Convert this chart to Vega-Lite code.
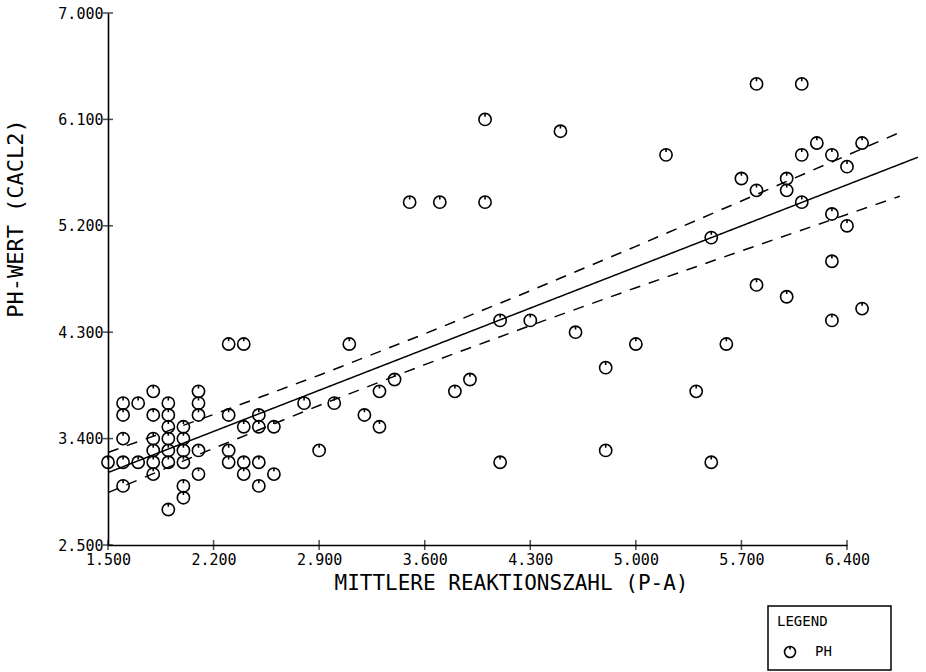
{
  "$schema": "https://vega.github.io/schema/vega-lite/v6.json",
  "autosize": {"type": "none"},
  "padding": {"left": 108, "top": 13, "right": 79, "bottom": 127},
  "width": 739,
  "height": 532,
  "background": "white",
  "config": {
    "view": {"stroke": null},
    "axis": {
      "grid": false,
      "ticks": false,
      "tickSize": 0,
      "domainColor": "black",
      "domainWidth": 1.6,
      "labelFont": "DejaVu Sans Mono",
      "labelFontSize": 15,
      "labelColor": "black",
      "labelOverlap": false,
      "labelBound": false,
      "labelFlush": false,
      "titleFont": "DejaVu Sans Mono",
      "titleFontWeight": "normal",
      "titleColor": "black"
    },
    "legend": {
      "orient": "none",
      "legendX": 660,
      "legendY": 593,
      "strokeColor": "black",
      "strokeWidth": 1.5,
      "padding": 9,
      "cornerRadius": 0,
      "titleFont": "DejaVu Sans Mono",
      "titleFontSize": 14,
      "titleFontWeight": "normal",
      "titleColor": "black",
      "titlePadding": 16,
      "labelFont": "DejaVu Sans Mono",
      "labelFontSize": 14,
      "labelColor": "black",
      "labelOffset": 18,
      "symbolOffset": 6,
      "symbolSize": 120,
      "symbolStrokeColor": "black",
      "symbolStrokeWidth": 1.6,
      "symbolFillColor": "transparent"
    }
  },
  "datasets": {
    "points": [
      {"x": 1.5, "ph": 3.2, "series": "PH"},
      {"x": 1.6, "ph": 3.7, "series": "PH"},
      {"x": 1.6, "ph": 3.6, "series": "PH"},
      {"x": 1.6, "ph": 3.4, "series": "PH"},
      {"x": 1.6, "ph": 3.2, "series": "PH"},
      {"x": 1.6, "ph": 3.0, "series": "PH"},
      {"x": 1.7, "ph": 3.7, "series": "PH"},
      {"x": 1.7, "ph": 3.2, "series": "PH"},
      {"x": 1.8, "ph": 3.8, "series": "PH"},
      {"x": 1.8, "ph": 3.6, "series": "PH"},
      {"x": 1.8, "ph": 3.4, "series": "PH"},
      {"x": 1.8, "ph": 3.3, "series": "PH"},
      {"x": 1.8, "ph": 3.2, "series": "PH"},
      {"x": 1.8, "ph": 3.1, "series": "PH"},
      {"x": 1.9, "ph": 3.7, "series": "PH"},
      {"x": 1.9, "ph": 3.6, "series": "PH"},
      {"x": 1.9, "ph": 3.5, "series": "PH"},
      {"x": 1.9, "ph": 3.4, "series": "PH"},
      {"x": 1.9, "ph": 3.3, "series": "PH"},
      {"x": 1.9, "ph": 3.2, "series": "PH"},
      {"x": 1.9, "ph": 2.8, "series": "PH"},
      {"x": 2.0, "ph": 3.5, "series": "PH"},
      {"x": 2.0, "ph": 3.4, "series": "PH"},
      {"x": 2.0, "ph": 3.3, "series": "PH"},
      {"x": 2.0, "ph": 3.2, "series": "PH"},
      {"x": 2.0, "ph": 3.0, "series": "PH"},
      {"x": 2.0, "ph": 2.9, "series": "PH"},
      {"x": 2.1, "ph": 3.8, "series": "PH"},
      {"x": 2.1, "ph": 3.7, "series": "PH"},
      {"x": 2.1, "ph": 3.6, "series": "PH"},
      {"x": 2.1, "ph": 3.3, "series": "PH"},
      {"x": 2.1, "ph": 3.1, "series": "PH"},
      {"x": 2.3, "ph": 4.2, "series": "PH"},
      {"x": 2.3, "ph": 3.6, "series": "PH"},
      {"x": 2.3, "ph": 3.3, "series": "PH"},
      {"x": 2.3, "ph": 3.2, "series": "PH"},
      {"x": 2.4, "ph": 4.2, "series": "PH"},
      {"x": 2.4, "ph": 3.5, "series": "PH"},
      {"x": 2.4, "ph": 3.2, "series": "PH"},
      {"x": 2.4, "ph": 3.1, "series": "PH"},
      {"x": 2.5, "ph": 3.6, "series": "PH"},
      {"x": 2.5, "ph": 3.5, "series": "PH"},
      {"x": 2.5, "ph": 3.2, "series": "PH"},
      {"x": 2.5, "ph": 3.0, "series": "PH"},
      {"x": 2.6, "ph": 3.5, "series": "PH"},
      {"x": 2.6, "ph": 3.1, "series": "PH"},
      {"x": 2.8, "ph": 3.7, "series": "PH"},
      {"x": 2.9, "ph": 3.3, "series": "PH"},
      {"x": 3.0, "ph": 3.7, "series": "PH"},
      {"x": 3.1, "ph": 4.2, "series": "PH"},
      {"x": 3.2, "ph": 3.6, "series": "PH"},
      {"x": 3.3, "ph": 3.8, "series": "PH"},
      {"x": 3.3, "ph": 3.5, "series": "PH"},
      {"x": 3.4, "ph": 3.9, "series": "PH"},
      {"x": 3.5, "ph": 5.4, "series": "PH"},
      {"x": 3.7, "ph": 5.4, "series": "PH"},
      {"x": 3.8, "ph": 3.8, "series": "PH"},
      {"x": 3.9, "ph": 3.9, "series": "PH"},
      {"x": 4.0, "ph": 6.1, "series": "PH"},
      {"x": 4.0, "ph": 5.4, "series": "PH"},
      {"x": 4.1, "ph": 4.4, "series": "PH"},
      {"x": 4.1, "ph": 3.2, "series": "PH"},
      {"x": 4.3, "ph": 4.4, "series": "PH"},
      {"x": 4.5, "ph": 6.0, "series": "PH"},
      {"x": 4.6, "ph": 4.3, "series": "PH"},
      {"x": 4.8, "ph": 4.0, "series": "PH"},
      {"x": 4.8, "ph": 3.3, "series": "PH"},
      {"x": 5.0, "ph": 4.2, "series": "PH"},
      {"x": 5.2, "ph": 5.8, "series": "PH"},
      {"x": 5.4, "ph": 3.8, "series": "PH"},
      {"x": 5.5, "ph": 5.1, "series": "PH"},
      {"x": 5.5, "ph": 3.2, "series": "PH"},
      {"x": 5.6, "ph": 4.2, "series": "PH"},
      {"x": 5.7, "ph": 5.6, "series": "PH"},
      {"x": 5.8, "ph": 6.4, "series": "PH"},
      {"x": 5.8, "ph": 5.5, "series": "PH"},
      {"x": 5.8, "ph": 4.7, "series": "PH"},
      {"x": 6.0, "ph": 5.6, "series": "PH"},
      {"x": 6.0, "ph": 5.5, "series": "PH"},
      {"x": 6.0, "ph": 4.6, "series": "PH"},
      {"x": 6.1, "ph": 6.4, "series": "PH"},
      {"x": 6.1, "ph": 5.8, "series": "PH"},
      {"x": 6.1, "ph": 5.4, "series": "PH"},
      {"x": 6.2, "ph": 5.9, "series": "PH"},
      {"x": 6.3, "ph": 5.8, "series": "PH"},
      {"x": 6.3, "ph": 5.3, "series": "PH"},
      {"x": 6.3, "ph": 4.9, "series": "PH"},
      {"x": 6.3, "ph": 4.4, "series": "PH"},
      {"x": 6.4, "ph": 5.7, "series": "PH"},
      {"x": 6.4, "ph": 5.2, "series": "PH"},
      {"x": 6.5, "ph": 5.9, "series": "PH"},
      {"x": 6.5, "ph": 4.5, "series": "PH"}
    ],
    "lines": [
      {"x": 1.5, "y": 3.113, "band": "fit"},
      {"x": 6.87, "y": 5.780, "band": "fit"},
      {"x": 1.5, "y": 3.283, "band": "upper"},
      {"x": 2.2, "y": 3.604, "band": "upper"},
      {"x": 2.9, "y": 3.936, "band": "upper"},
      {"x": 3.6, "y": 4.286, "band": "upper"},
      {"x": 4.3, "y": 4.650, "band": "upper"},
      {"x": 5.0, "y": 5.026, "band": "upper"},
      {"x": 5.7, "y": 5.410, "band": "upper"},
      {"x": 6.4, "y": 5.796, "band": "upper"},
      {"x": 6.75, "y": 5.990, "band": "upper"},
      {"x": 1.5, "y": 2.943, "band": "lower"},
      {"x": 2.2, "y": 3.318, "band": "lower"},
      {"x": 2.9, "y": 3.680, "band": "lower"},
      {"x": 3.6, "y": 4.026, "band": "lower"},
      {"x": 4.3, "y": 4.356, "band": "lower"},
      {"x": 5.0, "y": 4.676, "band": "lower"},
      {"x": 5.7, "y": 4.988, "band": "lower"},
      {"x": 6.4, "y": 5.296, "band": "lower"},
      {"x": 6.75, "y": 5.450, "band": "lower"}
    ],
    "xticks": [{"v": 1.5}, {"v": 2.2}, {"v": 2.9}, {"v": 3.6}, {"v": 4.3}, {"v": 5.0}, {"v": 5.7}, {"v": 6.4}],
    "yticks": [{"v": 2.5}, {"v": 3.4}, {"v": 4.3}, {"v": 5.2}, {"v": 6.1}, {"v": 7.0}]
  },
  "layer": [
    {
      "data": {"name": "lines"},
      "mark": {"type": "line", "color": "black", "strokeWidth": 1.5},
      "encoding": {
        "x": {
          "field": "x", "type": "quantitative",
          "scale": {"domain": [1.5, 6.4], "nice": false, "zero": false},
          "axis": {
            "values": [1.5, 2.2, 2.9, 3.6, 4.3, 5.0, 5.7, 6.4],
            "format": ".3f",
            "labelPadding": 7,
            "title": "MITTLERE REAKTIONSZAHL (P-A)",
            "titleFontSize": 21,
            "titleX": 403,
            "titleY": 44,
            "titleAlign": "center",
            "titleBaseline": "alphabetic"
          }
        },
        "y": {
          "field": "y", "type": "quantitative",
          "scale": {"domain": [2.5, 7.0], "nice": false, "zero": false},
          "axis": {
            "values": [2.5, 3.4, 4.3, 5.2, 6.1, 7.0],
            "format": ".3f",
            "labelPadding": 5,
            "title": "PH-WERT (CACL2)",
            "titleFontSize": 22,
            "titleAngle": -90,
            "titleX": -86,
            "titleY": 205,
            "titleAlign": "center",
            "titleBaseline": "alphabetic"
          }
        },
        "detail": {"field": "band"},
        "strokeDash": {
          "field": "band", "type": "nominal",
          "scale": {"domain": ["fit", "upper", "lower"], "range": [[1, 0], [11, 9], [11, 9]]},
          "legend": null
        }
      }
    },
    {
      "data": {"name": "points"},
      "mark": {"type": "point", "filled": false, "stroke": "black", "strokeWidth": 1.6, "size": 150, "opacity": 1},
      "encoding": {
        "x": {"field": "x", "type": "quantitative"},
        "y": {"field": "ph", "type": "quantitative"},
        "shape": {
          "field": "series", "type": "nominal",
          "scale": {"domain": ["PH"], "range": ["M-1,0A1,1,0,1,1,1,0A1,1,0,1,1,-1,0M0,-1L0,-0.45"]},
          "legend": {
            "title": "LEGEND",
            "labelExpr": "datum.label + '\u2800\u2800\u2800\u2800\u2800'"
          }
        }
      }
    },
    {
      "data": {"name": "xticks"},
      "mark": {"type": "tick", "orient": "vertical", "color": "black", "size": 10, "thickness": 1.5},
      "encoding": {
        "x": {"field": "v", "type": "quantitative"},
        "y": {"datum": 2.5, "type": "quantitative"}
      }
    },
    {
      "data": {"name": "yticks"},
      "mark": {"type": "tick", "orient": "horizontal", "color": "black", "size": 10, "thickness": 1.5},
      "encoding": {
        "x": {"datum": 1.5, "type": "quantitative"},
        "y": {"field": "v", "type": "quantitative"}
      }
    }
  ]
}
